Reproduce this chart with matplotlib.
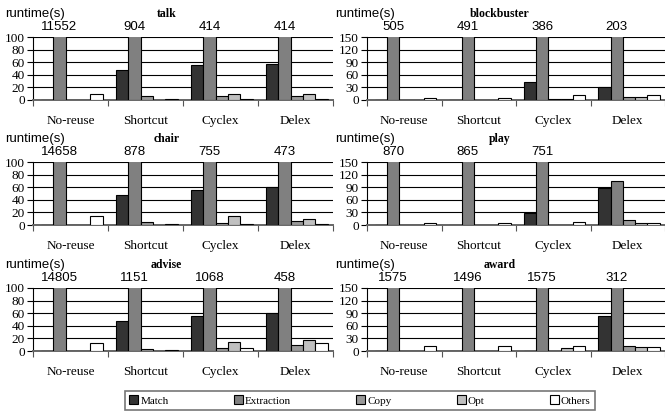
import numpy as np
import matplotlib
matplotlib.use("Agg")
import matplotlib.pyplot as plt
from matplotlib.patches import Patch

plt.rcParams['font.family'] = ['Liberation Serif', 'DejaVu Serif']

methods = ["No-reuse", "Shortcut", "Cyclex", "Delex"]
parts = ["Match", "Extraction", "Copy", "Opt", "Others"]
colors = ["#333333", "#808080", "#999999", "#c0c0c0", "#ffffff"]

# runtime(s) per dataset: one list per method, values in order of parts
talk = [[0, 11552, 0, 0, 10], [48, 904, 6, 0, 2], [55, 414, 6, 9, 2], [57, 414, 6, 9, 2]]
blockbuster = [[0, 505, 0, 0, 4], [0, 491, 0, 0, 4], [42, 386, 2, 2, 11], [32, 203, 6, 6, 11]]
chair = [[0, 14658, 0, 0, 15], [48, 878, 4, 0, 1], [55, 755, 3, 15, 1], [60, 473, 6, 9, 1]]
play = [[0, 870, 0, 0, 4], [0, 865, 0, 0, 4], [29, 751, 1, 1, 6], [89, 104, 13, 4, 4]]
advise = [[0, 14805, 0, 0, 12], [48, 1151, 3, 0, 1], [55, 1068, 4, 15, 4], [60, 458, 9, 18, 12]]
award = [[0, 1575, 0, 0, 11], [0, 1496, 0, 0, 11], [0, 1575, 0, 6, 11], [84, 312, 11, 9, 9]]

panels = [
    ("talk", talk, 100, 20),
    ("blockbuster", blockbuster, 150, 30),
    ("chair", chair, 100, 20),
    ("play", play, 150, 30),
    ("advise", advise, 100, 20),
    ("award", award, 150, 30),
]

fig = plt.figure(figsize=(6.65, 4.12), dpi=100)

col_x = [33 / 665, 367 / 665]
col_w = [300 / 665, 298 / 665]
ylab_x = [-0.093, -0.107]
row_bottom = [1 - 100 / 412, 1 - 225 / 412, 1 - 351 / 412]
row_h = 63 / 412

bw = 0.165
x = np.arange(len(methods))

for i, (name, data, ymax, step) in enumerate(panels):
    r, c = divmod(i, 2)
    ax = fig.add_axes([col_x[c], row_bottom[r], col_w[c], row_h])
    vals = np.array(data)
    for j, part in enumerate(parts):
        ax.bar(x + (j - 1.9) * bw, vals[:, j], width=bw, color=colors[j],
               edgecolor="black", linewidth=0.8, zorder=3)
        if part == "Extraction":
            for k, v in enumerate(vals[:, j]):
                if v > ymax:
                    ax.text(x[k] + (j - 1.9) * bw, 1.165, str(v), transform=ax.get_xaxis_transform(),
                            ha="center", va="center", fontsize=9.5, family="Liberation Sans")
    ax.set_xlim(-0.5, 3.5)
    ax.set_ylim(0, ymax)
    ax.set_yticks(np.arange(0, ymax + 1, step))
    ax.yaxis.grid(True, color="black", linewidth=0.8, zorder=0)
    ax.set_axisbelow(True)
    ax.set_xticks([-0.5, 0.5, 1.5, 2.5, 3.5])
    ax.set_xticklabels([])
    ax.set_xticks(x, minor=True)
    ax.set_xticklabels(methods, minor=True, fontsize=9.5)
    ax.tick_params(axis="x", which="minor", length=0, pad=11)
    ax.tick_params(axis="x", which="major", length=4, direction="out", color="#555555")
    ax.tick_params(axis="y", labelsize=9.5, length=4, pad=2)
    for s in ["top", "right"]:
        ax.spines[s].set_visible(False)
    ax.spines["bottom"].set_color("#666666")
    ax.spines["bottom"].set_linewidth(1.4)
    ax.spines["left"].set_linewidth(0.8)
    ax.text(ylab_x[c], 1.365, "runtime(s)", transform=ax.transAxes, ha="left", va="center",
            fontsize=9.5, family="Liberation Sans")
    ax.text(0.445, 1.36, name, transform=ax.transAxes, ha="center", va="center",
            fontsize=8.5, fontweight="bold")

handles = [Patch(facecolor=col, edgecolor="black", linewidth=0.8) for col in colors]
leg = fig.legend(handles, parts, loc="lower left", ncol=5, mode="expand",
                 bbox_to_anchor=(125 / 665, 2 / 412, 470 / 665, 22 / 412),
                 fontsize=8, frameon=True, fancybox=False, handlelength=0.8,
                 handleheight=0.8, handletextpad=0.2, borderaxespad=0)
leg.get_frame().set_edgecolor("#555555")
leg.get_frame().set_linewidth(1.2)

fig.savefig("out.png", dpi=100)
